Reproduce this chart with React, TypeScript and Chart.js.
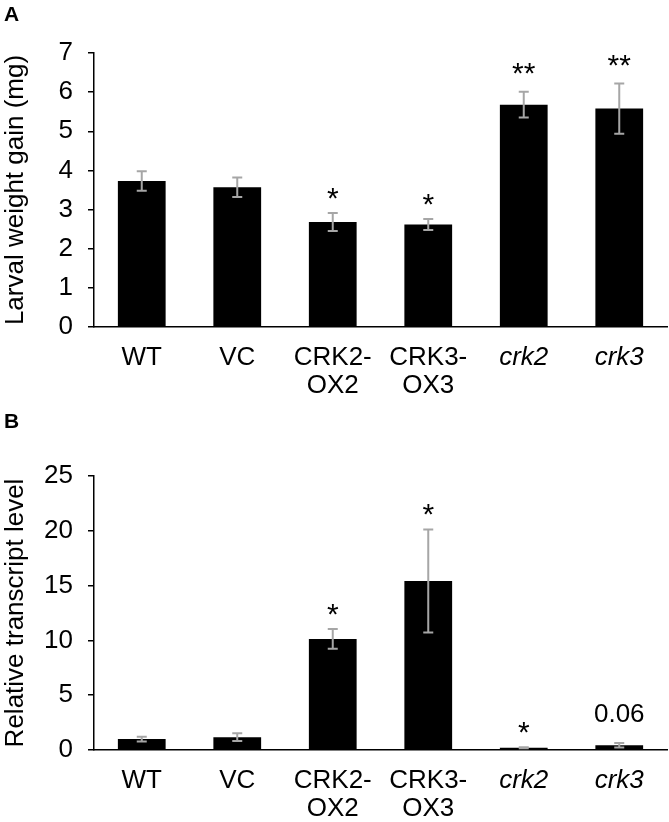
import React, { useEffect, useRef } from 'react';
import { Chart, registerables } from 'chart.js';

Chart.register(...registerables);

const categories = [['WT'], ['VC'], ['CRK2-', 'OX2'], ['CRK3-', 'OX3'], ['crk2'], ['crk3']];
const italicCategory = [false, false, false, false, true, true];

const weightGain = [3.73, 3.57, 2.68, 2.62, 5.68, 5.58];
const weightGainErr = [0.25, 0.25, 0.23, 0.14, 0.33, 0.64];
const weightGainMarks = ['', '', '*', '*', '**', '**'];
const weightMax = 7;
const weightStep = 1;

const transcript = [1.0, 1.17, 10.13, 15.42, 0.2, 0.43];
const transcriptErr = [0.22, 0.35, 0.9, 4.7, 0.04, 0.2];
const transcriptMarks = ['', '', '*', '*', '*', '0.06'];
const transcriptMax = 25;
const transcriptStep = 5;

const FAMILY = '"Liberation Sans", Arial, Helvetica, sans-serif';
const FONT_SIZE = 26;

function makeOverlay(errs: number[], marks: string[], letter: string, letterBaseline: number) {
  return {
    id: 'overlay',
    afterDatasetsDraw(chart: any) {
      const ctx = chart.ctx;
      const meta = chart.getDatasetMeta(0);
      const ys = chart.scales.y;
      const vals = chart.data.datasets[0].data as number[];
      ctx.save();
      meta.data.forEach((bar: any, i: number) => {
        const v = vals[i];
        const e = errs[i];
        const x = bar.x;
        const yt = ys.getPixelForValue(v + e);
        const yb = ys.getPixelForValue(v - e);
        ctx.strokeStyle = '#a6a6a6';
        ctx.lineWidth = 2;
        ctx.beginPath();
        ctx.moveTo(x, yt);
        ctx.lineTo(x, yb);
        ctx.moveTo(x - 5, yt);
        ctx.lineTo(x + 5, yt);
        ctx.moveTo(x - 5, yb);
        ctx.lineTo(x + 5, yb);
        ctx.stroke();
        const m = marks[i];
        if (m) {
          ctx.fillStyle = '#000';
          ctx.textAlign = 'center';
          ctx.textBaseline = 'alphabetic';
          if (m.includes('*')) {
            ctx.font = `30px ${FAMILY}`;
            ctx.fillText(m, x, yt - (m.length > 1 ? 9 : 5));
          } else {
            ctx.font = `${FONT_SIZE}px ${FAMILY}`;
            ctx.fillText(m, x, yt - 21);
          }
        }
      });
      ctx.fillStyle = '#000';
      ctx.font = `bold 21px ${FAMILY}`;
      ctx.textAlign = 'left';
      ctx.textBaseline = 'alphabetic';
      ctx.fillText(letter, 4, letterBaseline);
      ctx.restore();
    },
  };
}

type PanelProps = {
  top: number;
  height: number;
  values: number[];
  errs: number[];
  marks: string[];
  max: number;
  step: number;
  title: string;
  letter: string;
  letterBaseline: number;
  plotTop: number;
  xAxisHeight: number;
};

function BarPanel(p: PanelProps) {
  const ref = useRef<HTMLCanvasElement | null>(null);
  useEffect(() => {
    if (!ref.current) return;
    const chart = new Chart(ref.current, {
      type: 'bar',
      data: {
        labels: categories as any,
        datasets: [
          {
            data: p.values,
            backgroundColor: '#000',
            borderWidth: 0,
            barPercentage: 0.5,
            categoryPercentage: 1,
          },
        ],
      },
      options: {
        animation: false,
        responsive: false,
        maintainAspectRatio: false,
        layout: { padding: { top: p.plotTop, right: 2, left: 0, bottom: 0 } },
        plugins: { legend: { display: false }, tooltip: { enabled: false } },
        scales: {
          x: {
            grid: { display: false, drawTicks: true, tickLength: 8 },
            border: { display: true, color: '#000', width: 1.5 },
            ticks: {
              autoSkip: false,
              maxRotation: 0,
              minRotation: 0,
              padding: 9,
              color: '#000',
              font: (c: any) => ({
                family: FAMILY,
                size: FONT_SIZE,
                lineHeight: 1.06,
                style: italicCategory[c.index] ? 'italic' : 'normal',
              }),
            },
            afterFit: (s: any) => {
              s.height = p.xAxisHeight;
            },
          },
          y: {
            min: 0,
            max: p.max,
            ticks: {
              stepSize: p.step,
              padding: 15,
              color: '#000',
              font: { family: FAMILY, size: FONT_SIZE },
            },
            grid: {
              drawOnChartArea: false,
              drawTicks: true,
              tickLength: 6,
              color: '#000',
              lineWidth: 1.5,
            },
            border: { display: true, color: '#000', width: 1.5 },
            title: {
              display: true,
              text: p.title,
              color: '#000',
              font: { family: FAMILY, size: FONT_SIZE },
              padding: { top: 0, bottom: 0 },
            },
            afterFit: (s: any) => {
              s.width = 94;
            },
          },
        },
      } as any,
      plugins: [makeOverlay(p.errs, p.marks, p.letter, p.letterBaseline)],
    });
    return () => chart.destroy();
  }, []);
  return (
    <canvas
      ref={ref}
      width={669}
      height={p.height}
      style={{ position: 'absolute', left: 0, top: p.top, width: 669, height: p.height }}
    />
  );
}

export default function App() {
  return (
    <div style={{ position: 'absolute', left: 0, top: 0, width: 669, height: 822, background: '#fff' }}>
      <BarPanel
        top={0}
        height={410}
        values={weightGain}
        errs={weightGainErr}
        marks={weightGainMarks}
        max={weightMax}
        step={weightStep}
        title="Larval weight gain (mg)"
        letter="A"
        letterBaseline={21}
        plotTop={53}
        xAxisHeight={83}
      />
      <BarPanel
        top={410}
        height={412}
        values={transcript}
        errs={transcriptErr}
        marks={transcriptMarks}
        max={transcriptMax}
        step={transcriptStep}
        title="Relative transcript level"
        letter="B"
        letterBaseline={18}
        plotTop={66}
        xAxisHeight={72}
      />
    </div>
  );
}
